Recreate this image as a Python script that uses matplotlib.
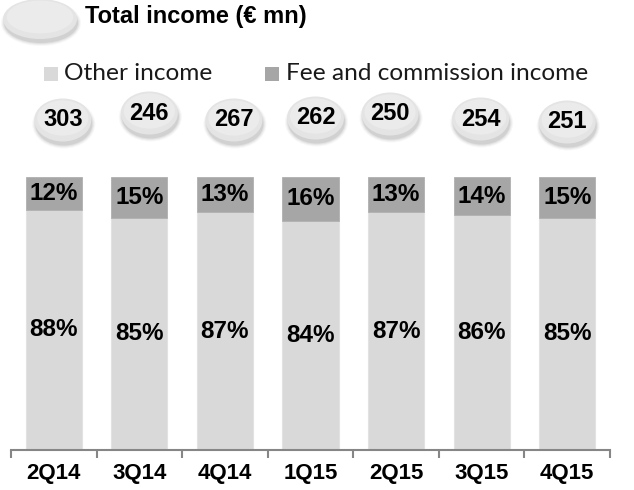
import matplotlib
matplotlib.use('Agg')
import matplotlib.pyplot as plt
from matplotlib.patches import Ellipse, Rectangle
import numpy as np

# ─── Data ────────────────────────────────────────────────────────────────────
quarters = ['2Q14', '3Q14', '4Q14', '1Q15', '2Q15', '3Q15', '4Q15']
other_pct = [88, 85, 87, 84, 87, 86, 85]
fee_pct = [12, 15, 13, 16, 13, 14, 15]
totals = [303, 246, 267, 262, 250, 254, 251]

# ─── Style ───────────────────────────────────────────────────────────────────
OTHER = '#D9D9D9'
FEE = '#A6A6A6'
AXIS = '#868686'
W, H, DPI = 6.34, 4.90, 100
# bubble offsets (px) relative to bar centre: wobbly slide look
bub_dx = [9, 10, 9, 5, -6, -1, 0]
bub_dy = [120, 113, 120, 118, 114, 119, 122]

plt.rcParams['font.family'] = ['Liberation Sans', 'DejaVu Sans']

fig = plt.figure(figsize=(W, H), dpi=DPI, facecolor='white')
px_w, px_h = W * DPI, H * DPI

# bar axes: baseline at y=450 px, bar tops at y=177 px, x 11..610 px
ax = fig.add_axes([11 / px_w, (px_h - 450) / px_h, 599 / px_w, 273 / px_h])
x = np.arange(len(quarters))
ax.bar(x, other_pct, width=0.655, color=OTHER, edgecolor='#E2E2E2', lw=0.8)
ax.bar(x, fee_pct, bottom=other_pct, width=0.655, color=FEE, edgecolor='#B0B0B0', lw=0.6)
ax.set_xlim(-0.5, len(quarters) - 0.5)
ax.set_ylim(0, 100)

for i in x:
    ax.text(i, other_pct[i] / 2, f'{other_pct[i]}%', ha='center', va='center',
            fontsize=17.5, fontweight='bold', color='black')
    ax.text(i, other_pct[i] + fee_pct[i] / 2, f'{fee_pct[i]}%', ha='center', va='center',
            fontsize=17.5, fontweight='bold', color='black')

for s in ['top', 'right', 'left']:
    ax.spines[s].set_visible(False)
ax.spines['bottom'].set_color(AXIS)
ax.spines['bottom'].set_linewidth(1.5)
ax.set_yticks([])
ax.set_xticks(x)
ax.set_xticklabels(quarters, fontsize=16, fontweight='bold')
ax.tick_params(axis='x', which='major', length=0, pad=9)
ax.set_xticks(np.arange(-0.5, len(quarters)), minor=True)
ax.tick_params(axis='x', which='minor', length=6, width=1.5, color=AXIS, direction='out')

# ─── Overlay in pixel coordinates ────────────────────────────────────────────
ov = fig.add_axes([0, 0, 1, 1], facecolor='none')
ov.set_xlim(0, px_w)
ov.set_ylim(px_h, 0)
ov.axis('off')


def bubble(cx, cy, w, h):
    # soft shadow underneath
    for k, a in enumerate([0.04, 0.06, 0.08, 0.11]):
        grow = 3 - k
        ov.add_patch(Ellipse((cx + 1, cy + 4), w + grow * 2, h + grow * 2,
                             color='#505050', alpha=a, lw=0, zorder=2))
    ov.add_patch(Ellipse((cx, cy), w, h, color='#E4E4E4', lw=0, zorder=3))
    ov.add_patch(Ellipse((cx, cy - 2), w * 0.9, h * 0.82, color='#EBEBEB', lw=0, zorder=3))


# title bubble + title
bubble(40, 19, 74, 40)
ov.text(85, 17, 'Total income (€ mn)', ha='left', va='center',
        fontsize=17, fontweight='bold', color='black', zorder=5)

# legend
ov.add_patch(Rectangle((44, 67), 14, 14, color=OTHER, lw=0, zorder=4))
ov.text(64, 74, 'Other income', ha='left', va='center', fontsize=17.6,
        family=['Lato', 'DejaVu Sans'], color='#1A1A1A', zorder=5)
ov.add_patch(Rectangle((265, 67), 14, 14, color=FEE, lw=0, zorder=4))
ov.text(286, 74, 'Fee and commission income', ha='left', va='center', fontsize=17.6,
        family=['Lato', 'DejaVu Sans'], color='#1A1A1A', zorder=5)

# total bubbles
for i, t in enumerate(totals):
    bx = ax.transData.transform((i, 0))[0] + bub_dx[i]
    by = bub_dy[i]
    bubble(bx, by, 57, 43)
    ov.text(bx, by, str(t), ha='center', va='center', fontsize=17,
            fontweight='bold', color='black', zorder=5)

fig.savefig('out.png', dpi=DPI, facecolor='white')
